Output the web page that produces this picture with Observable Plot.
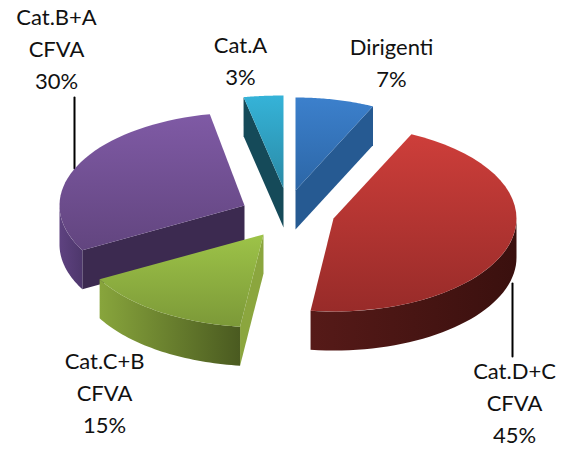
<!DOCTYPE html>
<html>
<head>
<meta charset="utf-8">
<script src="https://cdn.jsdelivr.net/npm/d3@7"></script>
<script src="https://cdn.jsdelivr.net/npm/@observablehq/plot@0.6"></script>
<style>
  html, body { margin: 0; padding: 0; background: #fff; }
  svg { display: block; }
</style>
</head>
<body>
<script>
// Staff breakdown by category, clockwise from twelve o'clock.
const categories = ["Dirigenti", "Cat.D+C\nCFVA", "Cat.C+B\nCFVA", "Cat.B+A\nCFVA", "Cat.A"];
const shares = [7, 45, 15, 30, 3];

// Tilted-disc layout for the exploded pie.
const hub = [289, 212];
const radiusY = 93, thickness = 39;
const radiiX = [182, 183, 187, 185, 213];
const explodeX = [6, 44, -26, -45, -6];
const explodeY = [-22, 6, 22, -7, -24];

// Colours: lit top, lower top, radial wall, rim wall start and end.
const topLight = ["#3c80cc", "#cd3e3a", "#9dc348", "#7f5aa5", "#35b3d8"];
const topDark = ["#2c66a6", "#982b29", "#7c9938", "#62457f", "#2a8aa6"];
const wallFill = ["#265a92", "#4a1513", "#8ba63e", "#3c2a50", "#154a59"];
const rimFrom = ["#265a92", "#561a18", "#88a53c", "#5e4280", "#154a59"];
const rimTo = ["#265a92", "#3a100e", "#4a5a20", "#4e376c", "#154a59"];

// Leader lines and text anchors.
const labelAnchors = [[391, 60], [514, 400], [104, 390], [56, 46], [240, 58]];
const leaders = [[[74, 97], [74, 168]], [[512, 283], [512, 356]]];

const tau = Math.PI * 2;
const total = d3.sum(shares);
const cumulative = d3.cumsum(shares);
const slices = shares.map((v, i) => ({
  i,
  a0: ((cumulative[i] - v) / total) * tau,
  a1: (cumulative[i] / total) * tau,
  cx: hub[0] + explodeX[i],
  cy: hub[1] + explodeY[i]
}));

const onRim = (s, a, drop = 0) => ({
  px: s.cx + radiiX[s.i] * Math.sin(a),
  py: s.cy - radiusY * Math.cos(a) + drop
});
const arc = (s, a0, a1, drop = 0) =>
  d3.range(0, 41).map((k) => onRim(s, a0 + ((a1 - a0) * k) / 40, drop));
const apex = (s, drop = 0) => ({px: s.cx, py: s.cy + drop});

const face = (points, fill) =>
  Plot.line(points, {x: "px", y: "py", fill, stroke: "none", curve: "linear"});

// Each slice: the walls that turn toward the viewer, then the top.
function sliceFaces(s) {
  const marks = [];
  const wall = (a) => face(
    [apex(s), onRim(s, a), onRim(s, a, thickness), apex(s, thickness)],
    wallFill[s.i]
  );
  if (Math.sin(s.a1) > 0) marks.push(wall(s.a1));
  if (Math.sin(s.a0) < 0) marks.push(wall(s.a0));
  const from = Math.max(s.a0, tau / 4), to = Math.min(s.a1, (3 * tau) / 4);
  if (to > from) {
    marks.push(face(
      [...arc(s, from, to), ...arc(s, to, from, thickness)],
      `url(#rim${s.i})`
    ));
  }
  marks.push(face([apex(s), ...arc(s, s.a0, s.a1)], `url(#top${s.i})`));
  return marks;
}

function gradients() {
  const defs = d3.create("svg:defs");
  const stops = (g, a, b) => {
    g.append("stop").attr("offset", 0).attr("stop-color", a);
    g.append("stop").attr("offset", 1).attr("stop-color", b);
  };
  slices.forEach((s) => {
    stops(defs.append("linearGradient").attr("id", `top${s.i}`)
      .attr("x1", 0).attr("y1", 0).attr("x2", 0).attr("y2", 1), topLight[s.i], topDark[s.i]);
    // Rim shading runs along the arc, which travels right to left on the front.
    stops(defs.append("linearGradient").attr("id", `rim${s.i}`)
      .attr("x1", 1).attr("y1", 0).attr("x2", 0).attr("y2", 0), rimTo[s.i], rimFrom[s.i]);
  });
  return defs.node();
}

const paintOrder = [3, 4, 0, 2, 1];
const labels = categories.map((name, i) => ({
  text: `${name}\n${shares[i]}%`,
  px: labelAnchors[i][0],
  py: labelAnchors[i][1]
}));

const chart = Plot.plot({
  width: 569,
  height: 450,
  margin: 0,
  x: {domain: [0, 569], range: [0, 569], axis: null},
  y: {domain: [0, 450], range: [0, 450], axis: null},
  style: {background: "#fff"},
  marks: [
    gradients,
    ...leaders.map((l) => Plot.line(l, {x: "0", y: "1", stroke: "#000", strokeWidth: 2})),
    ...paintOrder.flatMap((i) => sliceFaces(slices[i])),
    Plot.text(labels, {
      x: "px", y: "py", text: "text",
      fontFamily: "Lato", fontSize: 22, fill: "#111",
      lineHeight: 1.45, textAnchor: "middle"
    })
  ]
});
document.body.appendChild(chart);
</script>
</body>
</html>
